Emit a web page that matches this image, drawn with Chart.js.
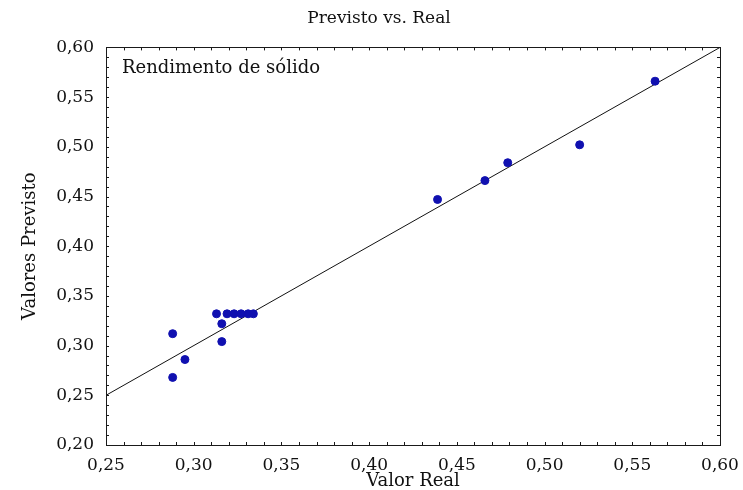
<!DOCTYPE html>
<html>
<head>
<meta charset="utf-8">
<title>Previsto vs. Real</title>
<script src="https://cdn.jsdelivr.net/npm/chart.js@4.4.1/dist/chart.umd.min.js"></script>
<style>
  html, body { margin: 0; padding: 0; background: #fff; }
  canvas { display: block; }
</style>
</head>
<body>
<canvas id="chart" width="743" height="490"></canvas>
<script>
// observed (x) and predicted (y) solid yield
const realValues = [0.288, 0.288, 0.295, 0.316, 0.316, 0.313, 0.319, 0.323, 0.327, 0.331, 0.334, 0.439, 0.466, 0.479, 0.520, 0.563];
const predictedValues = [0.312, 0.268, 0.286, 0.304, 0.322, 0.332, 0.332, 0.332, 0.332, 0.332, 0.332, 0.447, 0.466, 0.484, 0.502, 0.566];

// reference line y = x
const lineX = [0.25, 0.60];
const lineY = [0.25, 0.60];

const xTicks = [0.25, 0.30, 0.35, 0.40, 0.45, 0.50, 0.55, 0.60];
const xTickLabels = ['0,25', '0,30', '0,35', '0,40', '0,45', '0,50', '0,55', '0,60'];
const yTicks = [0.20, 0.25, 0.30, 0.35, 0.40, 0.45, 0.50, 0.55, 0.60];
const yTickLabels = ['0,20', '0,25', '0,30', '0,35', '0,40', '0,45', '0,50', '0,55', '0,60'];

const serif = '"DejaVu Serif", "Liberation Serif", serif';

// frame with small inward ticks every 0.01, plus the caption inside the plot
const framePlugin = {
    id: 'frame',
    afterDatasetsDraw(chart) {
        const {ctx, chartArea: a, scales: {x, y}} = chart;
        ctx.save();
        ctx.strokeStyle = '#1a1a1a';
        ctx.lineWidth = 1;
        ctx.strokeRect(Math.round(a.left) + 0.5, Math.round(a.top) + 0.5,
            Math.round(a.right - a.left), Math.round(a.bottom - a.top));
        const len = 3;
        ctx.beginPath();
        for (let i = 26; i < 60; i++) {
            const px = Math.round(x.getPixelForValue(i / 100)) + 0.5;
            ctx.moveTo(px, a.bottom); ctx.lineTo(px, a.bottom - len);
            ctx.moveTo(px, a.top); ctx.lineTo(px, a.top + len);
        }
        for (let i = 21; i < 60; i++) {
            const py = Math.round(y.getPixelForValue(i / 100)) + 0.5;
            ctx.moveTo(a.left, py); ctx.lineTo(a.left + len, py);
            ctx.moveTo(a.right, py); ctx.lineTo(a.right - len, py);
        }
        ctx.stroke();

        ctx.fillStyle = '#111';
        ctx.font = '18px ' + serif;
        ctx.textBaseline = 'middle';
        ctx.textAlign = 'left';
        ctx.fillText('Rendimento de sólido', a.left + 16, a.top + 21);
        ctx.restore();
    }
};

new Chart(document.getElementById('chart'), {
    type: 'scatter',
    data: {
        datasets: [
            {
                label: 'Rendimento de sólido',
                data: realValues.map((v, i) => ({x: v, y: predictedValues[i]})),
                backgroundColor: '#1010b0',
                borderColor: '#1010b0',
                pointRadius: 4,
                pointHoverRadius: 4,
                order: 1
            },
            {
                type: 'line',
                label: 'y = x',
                data: lineX.map((v, i) => ({x: v, y: lineY[i]})),
                borderColor: '#111',
                borderWidth: 1,
                pointRadius: 0,
                fill: false,
                order: 2
            }
        ]
    },
    options: {
        responsive: false,
        animation: false,
        // left padding shifts the page title's centre to the right
        layout: {padding: {left: 38, right: 23, top: 0, bottom: 0}},
        plugins: {
            legend: {display: false},
            tooltip: {enabled: false},
            title: {
                display: true,
                text: 'Previsto vs. Real',
                color: '#111',
                font: {family: serif, size: 17, weight: 'normal'},
                padding: {top: 8, bottom: 19}
            }
        },
        scales: {
            x: {
                type: 'linear',
                min: 0.25,
                max: 0.60,
                afterBuildTicks: s => { s.ticks = xTicks.map(v => ({value: v})); },
                afterFit: s => { s.height = 45; s.paddingLeft = 0; s.paddingRight = 0; },
                grid: {display: false, drawTicks: false},
                border: {display: false},
                ticks: {
                    color: '#111',
                    padding: 10,
                    maxRotation: 0,
                    autoSkip: false,
                    font: {family: serif, size: 17},
                    callback: (v, i) => xTickLabels[i]
                },
                title: {
                    display: true,
                    text: 'Valor Real',
                    color: '#111',
                    font: {family: serif, size: 18},
                    padding: {top: 0, bottom: -2}
                }
            },
            y: {
                type: 'linear',
                min: 0.20,
                max: 0.60,
                afterBuildTicks: s => { s.ticks = yTicks.map(v => ({value: v})); },
                afterFit: s => { s.width = 68; },
                grid: {display: false, drawTicks: false},
                border: {display: false},
                ticks: {
                    color: '#111',
                    padding: 12,
                    autoSkip: false,
                    font: {family: serif, size: 17},
                    callback: (v, i) => yTickLabels[i]
                },
                title: {
                    display: true,
                    text: 'Valores Previsto',
                    color: '#111',
                    font: {family: serif, size: 18},
                    padding: {top: -18, bottom: 0}
                }
            }
        }
    },
    plugins: [framePlugin]
});
</script>
</body>
</html>
